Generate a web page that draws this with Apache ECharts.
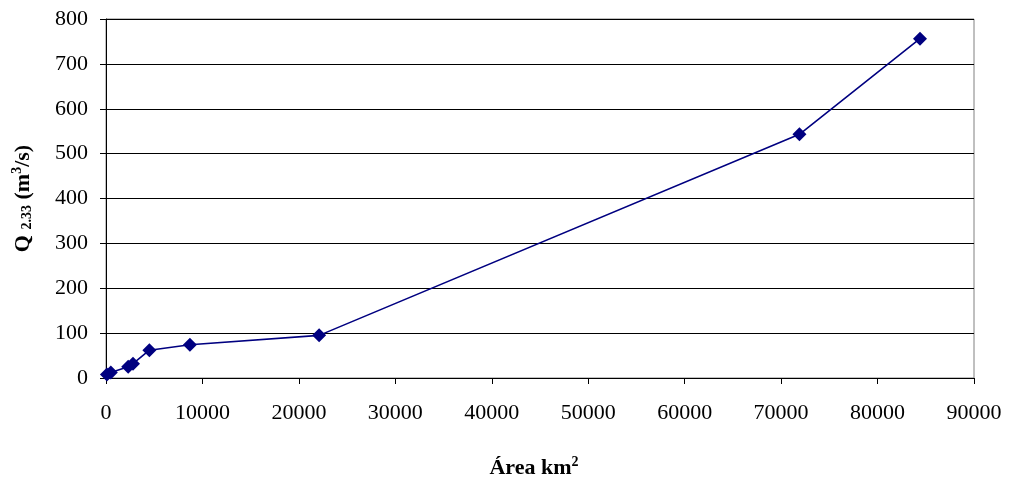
<!DOCTYPE html>
<html><head><meta charset="utf-8">
<script src="https://cdn.jsdelivr.net/npm/echarts@6/dist/echarts.min.js"></script>
<style>html,body{margin:0;padding:0;background:#fff}#c{width:1009px;height:478px}</style>
</head><body><div id="c"></div>
<script>
const areaKm2 = [100, 500, 2300, 2800, 4500, 8700, 22100, 71900, 84400];
const q233 = [8, 12, 25, 32, 62, 74, 95, 543, 756];
const xTicks = [0, 10000, 20000, 30000, 40000, 50000, 60000, 70000, 80000, 90000];
const yTicks = [0, 100, 200, 300, 400, 500, 600, 700, 800];

const font = '"Liberation Serif", "Times New Roman", serif';
const chart = echarts.init(document.getElementById('c'));
chart.setOption({
  animation: false,
  backgroundColor: '#fff',
  grid: { left: 106, right: 35, top: 19, bottom: 100, show: true, borderColor: '#808080', borderWidth: 1,
          containLabel: false, outerBoundsMode: 'none' },
  xAxis: {
    type: 'value', min: xTicks[0], max: xTicks[xTicks.length-1], interval: 10000,
    axisLine: { lineStyle: { color: '#000', width: 1 } },
    axisTick: { show: true, length: 6, lineStyle: { color: '#000' } },
    splitLine: { show: false },
    axisLabel: { color: '#000', fontFamily: font, fontSize: 22, margin: 24, formatter: v => String(v) },
    name: '{b|Área km}{s|2}',
    nameLocation: 'middle', nameGap: 77,
    nameTextStyle: { padding: [0, 12, 0, 0], rich: {
      b: { fontFamily: font, fontSize: 22, fontWeight: 'bold', color: '#000' },
      s: { fontFamily: font, fontSize: 14, fontWeight: 'bold', color: '#000', verticalAlign: 'top', padding: [0,0,12,0] }
    } }
  },
  yAxis: {
    type: 'value', min: yTicks[0], max: yTicks[yTicks.length-1], interval: 100,
    axisLine: { show: true, lineStyle: { color: '#000', width: 1 } },
    axisTick: { show: true, length: 6, lineStyle: { color: '#000' } },
    splitLine: { show: true, lineStyle: { color: '#000', width: 1 } },
    axisLabel: { color: '#000', fontFamily: font, fontSize: 22, margin: 18, formatter: v => String(v) },
    name: '{b|Q }{sub|2.33}{b| (m}{sup|3}{b|/s)}',
    nameLocation: 'middle', nameGap: 70, nameRotate: 90,
    nameTextStyle: { rich: {
      b: { fontFamily: font, fontSize: 22, fontWeight: 'bold', color: '#000' },
      sub: { fontFamily: font, fontSize: 14, fontWeight: 'bold', color: '#000', padding: [8,0,0,0] },
      sup: { fontFamily: font, fontSize: 14, fontWeight: 'bold', color: '#000', padding: [0,0,12,0] }
    } }
  },
  series: [{
    type: 'line',
    data: areaKm2.map((x, i) => [x, q233[i]]),
    symbol: 'diamond', symbolSize: 14,
    itemStyle: { color: '#000080' },
    lineStyle: { color: '#000080', width: 1.6 }
  }]
});
</script></body></html>
